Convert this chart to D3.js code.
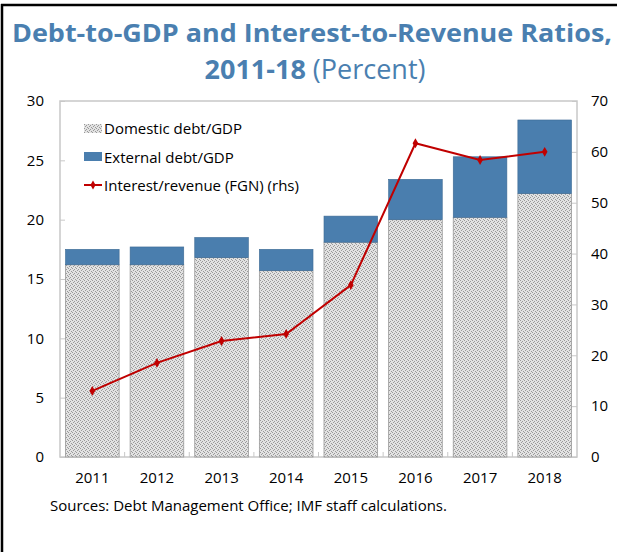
<!DOCTYPE html>
<html>
<head>
<meta charset="utf-8">
<script src="https://cdn.jsdelivr.net/npm/d3@7"></script>
<style>
  body { margin: 0; background: #fff; }
  svg text { font-family: "Open Sans", "Noto Sans", sans-serif; }
</style>
</head>
<body>
<svg id="chart"></svg>
<script>
// data
var years = ["2011", "2012", "2013", "2014", "2015", "2016", "2017", "2018"]
var domestic = [16.2, 16.2, 16.8, 15.7, 18.1, 20.0, 20.2, 22.2]
var external = [1.3, 1.5, 1.7, 1.8, 2.2, 3.4, 5.1, 6.2]
var interest = [13.0, 18.5, 22.8, 24.2, 33.8, 61.7, 58.4, 60.0]
var leftTicks = [0, 5, 10, 15, 20, 25, 30]
var rightTicks = [0, 10, 20, 30, 40, 50, 60, 70]

var width = 617
var height = 552
var dimensions = { top: 101, bottom: 457, left: 60, right: 577 }

var blue = "#4a7eae"
var red = "#c00000"
var titleBlue = "#4a7fb0"

var svg = d3.select("#chart")
  .attr("width", width)
  .attr("height", height)

// hatched fill for domestic debt
var defs = svg.append("defs")
var pat = defs.append("pattern")
  .attr("id", "dots")
  .attr("width", 4)
  .attr("height", 4)
  .attr("patternUnits", "userSpaceOnUse")
pat.append("rect").attr("width", 4).attr("height", 4).attr("fill", "#e2e2e2")
;[[0,0],[2,1],[1,2],[3,3]].forEach(function(p){
  pat.append("rect").attr("x", p[0]).attr("y", p[1]).attr("width", 1).attr("height", 1).attr("fill", "#999999")
})

// frame
svg.append("line").attr("x1", 2).attr("x2", 2).attr("y1", 4).attr("y2", height)
  .attr("stroke", "#000").attr("stroke-width", 2.5)
svg.append("line").attr("x1", 1).attr("x2", width).attr("y1", 5).attr("y2", 5)
  .attr("stroke", "#000").attr("stroke-width", 2.5)

// title
svg.append("text")
  .attr("x", 312).attr("y", 42)
  .attr("text-anchor", "middle")
  .attr("fill", titleBlue)
  .style("font-size", "25px")
  .style("font-weight", "bold")
  .attr("textLength", 600)
  .attr("lengthAdjust", "spacingAndGlyphs")
  .text("Debt-to-GDP and Interest-to-Revenue Ratios,")

var t2 = svg.append("text")
  .attr("x", 315).attr("y", 79)
  .attr("text-anchor", "middle")
  .attr("fill", titleBlue)
  .style("font-size", "27px")
t2.append("tspan").style("font-weight", "bold").text("2011-18")
t2.append("tspan").text(" (Percent)")

var xScale = d3.scaleBand()
  .domain(years)
  .range([dimensions.left, dimensions.right])
  .paddingInner(0.17)
  .paddingOuter(0.085)

var yScale = d3.scaleLinear()
  .domain([0, 30])
  .range([dimensions.bottom, dimensions.top])

var yRight = d3.scaleLinear()
  .domain([0, 70])
  .range([dimensions.bottom, dimensions.top])

// plot box
svg.append("rect")
  .attr("x", dimensions.left).attr("y", dimensions.top)
  .attr("width", dimensions.right - dimensions.left)
  .attr("height", dimensions.bottom - dimensions.top)
  .attr("fill", "none")
  .attr("stroke", "#c8c8c8")
  .attr("stroke-width", 1.5)

// bars
var bars = svg.append("g").selectAll("g")
  .data(years)
  .enter().append("g")

bars.append("rect")
  .attr("x", d => xScale(d))
  .attr("width", xScale.bandwidth())
  .attr("y", (d, i) => yScale(domestic[i]))
  .attr("height", (d, i) => yScale(0) - yScale(domestic[i]))
  .attr("fill", "url(#dots)")
  .attr("stroke", "#9a9a9a")
  .attr("stroke-width", 0.8)

bars.append("rect")
  .attr("x", d => xScale(d))
  .attr("width", xScale.bandwidth())
  .attr("y", (d, i) => yScale(domestic[i] + external[i]))
  .attr("height", (d, i) => yScale(domestic[i]) - yScale(domestic[i] + external[i]))
  .attr("fill", blue)
  .attr("stroke", "#3d6a93")
  .attr("stroke-width", 0.6)

// axes
var yAxisGen = d3.axisRight(yScale).tickValues(leftTicks).tickSize(5).tickFormat(d3.format("d"))
var yAxis = svg.append("g")
  .attr("transform", `translate(${dimensions.left},0)`)
  .call(yAxisGen)
yAxis.select(".domain").remove()
yAxis.selectAll("line").attr("stroke", "#c8c8c8")
yAxis.selectAll("text")
  .attr("x", -16)
  .attr("text-anchor", "end")
  .attr("fill", "#000")
  .style("font-size", "15px")

var yRightGen = d3.axisLeft(yRight).tickValues(rightTicks).tickSize(5).tickFormat(d3.format("d"))
var yRightAxis = svg.append("g")
  .attr("transform", `translate(${dimensions.right},0)`)
  .call(yRightGen)
yRightAxis.select(".domain").remove()
yRightAxis.selectAll("line").attr("stroke", "#c8c8c8")
yRightAxis.selectAll("text")
  .attr("x", 14)
  .attr("text-anchor", "start")
  .attr("fill", "#000")
  .style("font-size", "15px")

var xAxisGen = d3.axisBottom(xScale).tickSize(0)
var xAxis = svg.append("g")
  .attr("transform", `translate(0,${dimensions.bottom})`)
  .call(xAxisGen)
xAxis.select(".domain").remove()
xAxis.selectAll("text")
  .attr("y", 15)
  .attr("fill", "#000")
  .style("font-size", "15px")

// ticks between categories pointing up
var step = xScale.step()
var boundaries = years.slice(1).map(d => xScale(d) - step * xScale.paddingInner() / 2)
svg.append("g").selectAll("line")
  .data(boundaries)
  .enter().append("line")
  .attr("x1", d => d).attr("x2", d => d)
  .attr("y1", dimensions.bottom).attr("y2", dimensions.bottom - 5)
  .attr("stroke", "#c8c8c8")

// interest line
var line = d3.line()
  .x((d, i) => xScale(years[i]) + xScale.bandwidth() / 2)
  .y(d => yRight(d))

svg.append("path")
  .datum(interest)
  .attr("d", line)
  .attr("fill", "none")
  .attr("stroke", red)
  .attr("stroke-width", 2)

svg.append("g").selectAll("path")
  .data(interest)
  .enter().append("path")
  .attr("d", d3.symbol().type(d3.symbolDiamond).size(28))
  .attr("transform", (d, i) => `translate(${xScale(years[i]) + xScale.bandwidth() / 2},${yRight(d)})`)
  .attr("fill", red)

// legend
var legend = svg.append("g")
legend.append("rect")
  .attr("x", 84).attr("y", 124).attr("width", 18).attr("height", 9)
  .attr("fill", "url(#dots)")
legend.append("rect")
  .attr("x", 84).attr("y", 152).attr("width", 18).attr("height", 9)
  .attr("fill", blue)
legend.append("line")
  .attr("x1", 84).attr("x2", 102).attr("y1", 185).attr("y2", 185)
  .attr("stroke", red).attr("stroke-width", 2)
legend.append("path")
  .attr("d", d3.symbol().type(d3.symbolDiamond).size(24))
  .attr("transform", "translate(93,185)")
  .attr("fill", red)

var legendLabels = ["Domestic debt/GDP", "External debt/GDP", "Interest/revenue (FGN) (rhs)"]
legend.selectAll("text")
  .data(legendLabels)
  .enter().append("text")
  .attr("x", 104)
  .attr("y", (d, i) => 134 + i * 28.5)
  .style("font-size", "15px")
  .attr("fill", "#000")
  .text(d => d)

// source
svg.append("text")
  .attr("x", 50).attr("y", 511)
  .style("font-size", "15px")
  .attr("fill", "#000")
  .text("Sources: Debt Management Office; IMF staff calculations.")
</script>
</body>
</html>
